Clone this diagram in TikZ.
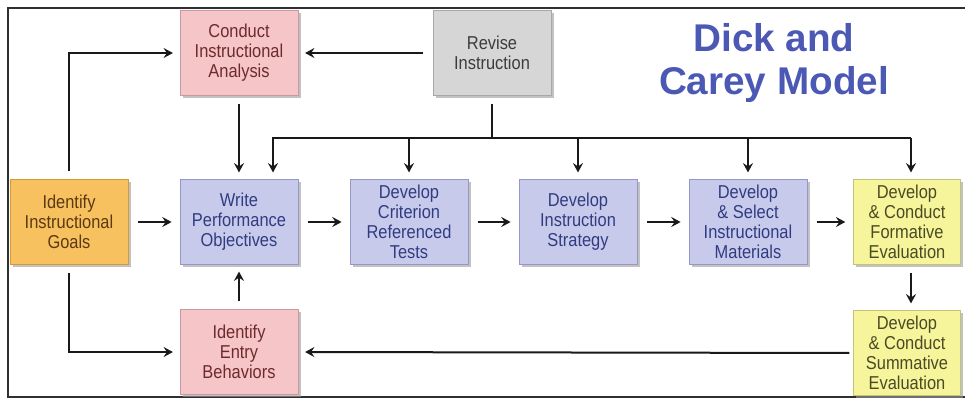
\documentclass[tikz,border=0pt]{standalone}
\usepackage{fontspec}
\setmainfont{Liberation Sans}
\newfontfamily\boxfont[FakeStretch=0.88]{Liberation Sans}
\usetikzlibrary{arrows.meta,shadows,calc}
\definecolor{pinkfill}{HTML}{F5C5C7}
\definecolor{pinkdraw}{HTML}{C99A9D}
\definecolor{pinktext}{HTML}{6E2B2E}
\definecolor{grayfill}{HTML}{D6D6D6}
\definecolor{graydraw}{HTML}{A8A8A8}
\definecolor{graytext}{HTML}{3C3C3C}
\definecolor{orangefill}{HTML}{F8C160}
\definecolor{orangedraw}{HTML}{D49A3A}
\definecolor{orangetext}{HTML}{5B3A12}
\definecolor{lavfill}{HTML}{C8CAEC}
\definecolor{lavdraw}{HTML}{9597C6}
\definecolor{lavtext}{HTML}{303C80}
\definecolor{yelfill}{HTML}{F6F59C}
\definecolor{yeldraw}{HTML}{C4C378}
\definecolor{yeltext}{HTML}{4A4A24}
\definecolor{titleblue}{HTML}{4B58B4}
\definecolor{framecol}{HTML}{303030}
\tikzset{
  box/.style={draw, line width=0.6pt, minimum width=88.5pt, minimum height=63.75pt,
    inner sep=1pt, align=center, font=\boxfont\fontsize{14pt}{15pt}\selectfont,
    drop shadow={shadow xshift=2pt, shadow yshift=-2pt, fill=black!40, opacity=0.6}},
  narrowbox/.style={minimum width=80pt},
  pinkbox/.style={fill=pinkfill, draw=pinkdraw, text=pinktext},
  graybox/.style={fill=grayfill, draw=graydraw, text=graytext},
  orangebox/.style={fill=orangefill, draw=orangedraw, text=orangetext},
  lavbox/.style={fill=lavfill, draw=lavdraw, text=lavtext},
  yelbox/.style={fill=yelfill, draw=yeldraw, text=yeltext},
  conn/.style={line width=1.5pt, draw=black!90},
  arr/.style={conn, -{Stealth[length=7pt,width=7.5pt,inset=2.5pt]}, shorten >=5pt, shorten <=6pt}
}
\begin{document}
\begin{tikzpicture}[x=0.75pt,y=-0.75pt]
\useasboundingbox (0,0) rectangle (965,401);
\draw[framecol, line width=0.8pt] (965,8) -- (8,8) -- (8,397) -- (965,397);

\node[box,pinkbox] (conduct) at (239,53) {Conduct\\Instructional\\Analysis};
\node[box,graybox] (revise) at (492,53) {Revise\\Instruction};
\node[box,orangebox] (goals) at (69,222) {Identify\\Instructional\\Goals};
\node[box,lavbox] (write) at (239,222) {Write\\Performance\\Objectives};
\node[box,lavbox] (tests) at (409,222) {Develop\\Criterion\\Referenced\\Tests};
\node[box,lavbox] (strategy) at (578,222) {Develop\\Instruction\\Strategy};
\node[box,lavbox] (materials) at (748,222) {Develop\\\& Select\\Instructional\\Materials};
\node[box,yelbox,narrowbox] (formative) at (907,222) {Develop\\\& Conduct\\Formative\\Evaluation};
\node[box,pinkbox] (entry) at (239,352) {Identify\\Entry\\Behaviors};
\node[box,yelbox,narrowbox] (summative) at (907,353) {Develop\\\& Conduct\\Summative\\Evaluation};

\node[text=titleblue, align=center, font=\bfseries\fontsize{29pt}{32pt}\selectfont] (title) at (774,63) {Dick and\\Carey Model};

% goals branches
\draw[arr] (goals.north) |- (conduct.west);
\draw[arr] (goals.south) |- (entry.west);
% revise to conduct
\draw[arr, shorten <=7pt] (revise.west) -- (conduct.east);
% conduct to write
\draw[arr] (conduct.south) -- (write.north);
% revise bus
\coordinate (busL) at (273,138);
\coordinate (busR) at (911,138);
\draw[conn, shorten <=6pt] (revise.south) -- (revise.south |- busL);
\draw[arr, shorten <=0pt] (busR) -- (busL) -- (busL |- write.north);
\draw[arr, shorten <=0pt] (busL -| tests.north) -- (tests.north);
\draw[arr, shorten <=0pt] (busL -| strategy.north) -- (strategy.north);
\draw[arr, shorten <=0pt] (busL -| materials.north) -- (materials.north);
\draw[arr, shorten <=0pt] (busR) -- (busR |- formative.north);
% row
\draw[arr, shorten <=7pt, shorten >=6pt] (goals.east) -- (write.west);
\draw[arr, shorten <=7pt, shorten >=6pt] (write.east) -- (tests.west);
\draw[arr, shorten <=7pt, shorten >=6pt] (tests.east) -- (strategy.west);
\draw[arr, shorten <=7pt, shorten >=6pt] (strategy.east) -- (materials.west);
\draw[arr, shorten <=7pt, shorten >=6pt] (materials.east) -- (formative.west);
% evaluation loop
\draw[arr] ($(formative.south)+(4,0)$) -- ($(summative.north)+(4,0)$);
\draw[arr, shorten <=3pt] (summative.west) -- (entry.east);
\draw[arr] (entry.north) -- (write.south);
\end{tikzpicture}
\end{document}
